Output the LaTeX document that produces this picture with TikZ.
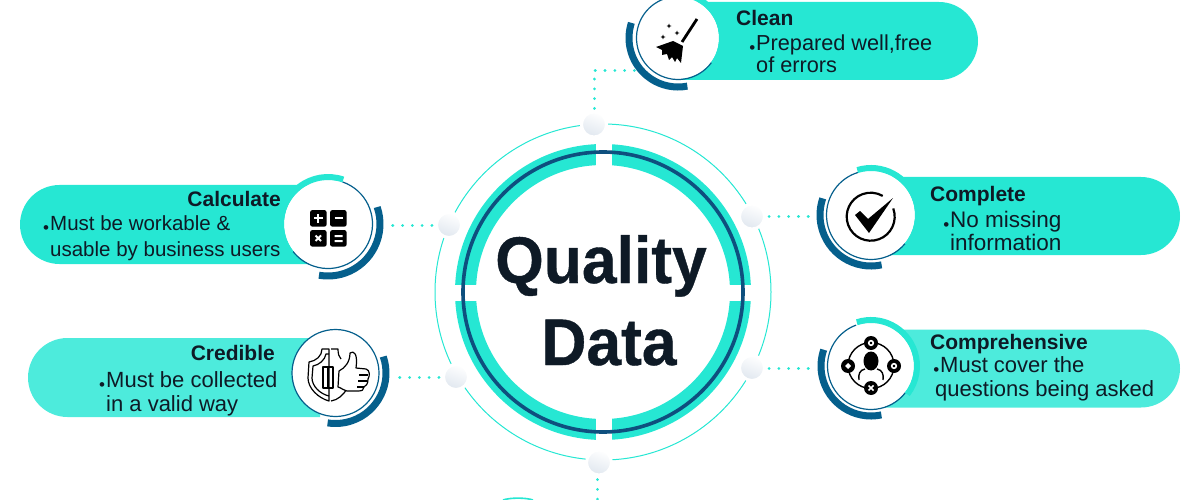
\documentclass[tikz,border=0pt]{standalone}
\usepackage{fontspec}
\setmainfont{Liberation Sans}
\usetikzlibrary{calc}
\definecolor{teal1}{HTML}{26E7D3}
\definecolor{teal2}{HTML}{4DEBDC}
\definecolor{navy}{HTML}{055F8C}
\definecolor{navydark}{HTML}{0E4F7E}
\definecolor{inkk}{HTML}{0E1A26}
\definecolor{ballshade}{HTML}{E0E7EF}
\tikzset{
 pillbox/.style={fill=teal1,draw=none},
 pillboxb/.style={fill=teal2,draw=none},
 ball/.style={circle,minimum size=25,inner sep=0,draw=white,line width=3pt,left color=white,right color=ballshade,shading angle=-20},
 iconface/.style={circle,fill=white,draw=none,minimum size=86,inner sep=0},
 dots/.style={draw=teal1,line width=3pt,line cap=round,dash pattern=on 0.1pt off 9.7pt},
 tealarc/.style={draw=teal1,line width=6pt},
 navyarc/.style={draw=navy,line width=7pt},
 thinarc/.style={draw=navy,line width=1.2pt},
 headtxt/.style={inner sep=0,font=\fontsize{21}{24}\selectfont\bfseries,text=inkk},
 bodytxt/.style={inner sep=0,align=left,text=inkk},
 bigtxt/.style={inner sep=0,anchor=base,xscale=.945,transform shape,font=\fontsize{66}{80}\selectfont\bfseries\addfontfeature{FakeBold=0.6},text=inkk},
 icoline/.style={draw=black,line width=1.2pt,line join=round},
}
\newcommand{\bdot}{\llap{\raisebox{-3pt}{\fontsize{17}{17}\selectfont •}\kern1pt}}
\newcommand{\ringarc}[5]{\draw[#1] ($(#2)+(#3:#5)$) arc (#3:#4:#5);}
\begin{document}
\begin{tikzpicture}[x=1pt,y=-1pt]
\useasboundingbox (0,0) rectangle (1200,500);
\begin{scope}
\clip (0,0) rectangle (1200,500);
% rings
\coordinate (hub) at (603,292);
\draw[teal1,line width=1pt] (hub) circle (168);
\draw[teal1,line width=21pt] (hub) circle (137.5);
\fill[white] (596,135) rectangle (611.5,180);
\fill[white] (596,405) rectangle (611.5,450);
\fill[white] (445,285.2) rectangle (490,301);
\fill[white] (715,285.2) rectangle (760,301);
\draw[navydark,line width=3.6pt] (hub) circle (140);
\node[bigtxt] (quality) at (601,283) {Quality};
\node[bigtxt] (datatxt) at (609,365) {Data};
% pills
\fill[pillbox] (680,2) -- (939,2) arc (-90:90:39) -- (680,80) -- cycle;
\fill[pillbox] (885,177) -- (1141,177) arc (-90:90:39) -- (885,255) -- cycle;
\fill[pillbox] (315,185) -- (59.5,185) arc (-90:-270:39.5) -- (315,264) -- cycle;
\fill[pillboxb] (320,338) -- (67.5,338) arc (-90:-270:39.5) -- (320,417) -- cycle;
\fill[pillboxb] (885,329.5) -- (1141,329.5) arc (-90:90:39) -- (885,407.5) -- cycle;
% icon faces
\node[iconface,minimum size=82] (iclean) at (678,38) {};
\node[iconface,minimum size=88] (icalc) at (328,224) {};
\node[iconface,minimum size=87] (icred) at (335.5,373) {};
\node[iconface,minimum size=88] (icomp) at (871,215) {};
\node[iconface,minimum size=86] (icompr) at (871,366) {};
% balls
\node[ball] (bclean) at (594,124.5) {};
\node[ball] (bcalc) at (449,225) {};
\node[ball] (bcomp) at (752,216.5) {};
\node[ball] (bcompr) at (752,368) {};
\node[ball] (bcred) at (456,377) {};
\node[ball] (bbot) at (599,462.5) {};
\coordinate (botend) at (597,502);
% connectors
\draw[dots,shorten <=2pt,shorten >=9pt] (bclean) -- (bclean |- iclean.232) -- (iclean.232);
\draw[dots,shorten <=3pt,shorten >=17pt] (bcalc) -- (icalc.east |- bcalc);
\draw[dots,shorten <=3pt,shorten >=17pt] (bcomp) -- (icomp.west |- bcomp);
\draw[dots,shorten <=3pt,shorten >=17pt] (bcompr) -- (icompr.west |- bcompr);
\draw[dots,shorten <=3pt,shorten >=17pt] (bcred) -- (icred.east |- bcred);
\draw[dots,shorten <=3pt] (bbot.south -| botend) -- (botend);
% decorative arcs
\ringarc{thinarc}{iclean}{36}{256}{41.5}
\ringarc{tealarc}{iclean}{-104}{36}{44}
\ringarc{navyarc}{iclean}{79}{198}{49}
\ringarc{thinarc}{icalc}{-71}{142}{44.5}
\ringarc{tealarc}{icalc}{142}{289}{47}
\ringarc{navyarc}{icalc}{-19}{100}{52}
\draw[thinarc] (icred) circle (43.5);
\ringarc{navyarc}{icred}{-19}{99}{50.5}
\ringarc{thinarc}{icomp}{40}{253}{44.5}
\ringarc{tealarc}{icomp}{-107}{40}{47}
\ringarc{navyarc}{icomp}{78}{199}{51}
\ringarc{thinarc}{icompr}{38}{250}{43.5}
\ringarc{tealarc}{icompr}{-108}{38}{46}
\ringarc{navyarc}{icompr}{78}{199}{50}
% partial icon at the bottom
\draw[teal1,line width=1.6pt] (503,500) .. controls (510,497.5) and (526,497.5) .. (533,500);
% broom
\draw[black,line width=2.8pt] (697,19) -- (682,42);
\fill[black] (673,41) -- (683,46) -- (681,63) -- (677,58) -- (675,62) -- (672,57) -- (669,60) -- (667,54) -- (662,55) -- (662,50) -- (656,47) -- cycle;
\foreach \p/\s in {669/26,663/37,677/33}{\fill[black] (\p,\s-2.5) -- (\p+.7,\s-.7) -- (\p+2.5,\s) -- (\p+.7,\s+.7) -- (\p,\s+2.5) -- (\p-.7,\s+.7) -- (\p-2.5,\s) -- (\p-.7,\s-.7) -- cycle;}
% calculator
\foreach \p/\s in {310/210,330/210,310/230,330/230}{\fill[black,rounded corners=2.5pt] (\p,\s) rectangle +(16.7,16.7);}
\draw[white,line width=2pt] (314,218.3) -- (322.5,218.3) (318.3,214) -- (318.3,222.5) (334.5,218.3) -- (342.5,218.3);
\draw[white,line width=2pt] (315.5,235.5) -- (321,241) (321,235.5) -- (315.5,241) (334.5,236) -- (342.5,236) (334.5,241) -- (342.5,241);
% shield and thumb
\draw[icoline] (329,349) -- (322,349) .. controls (322,356) and (316,361) .. (309,362) -- (308,378) .. controls (308,388) and (318,398) .. (329,401) -- cycle;
\draw[icoline] (329,354) -- (326,354) .. controls (325,360) and (319,365) .. (313,366) -- (312,378) .. controls (312,386) and (320,394) .. (329,396);
\draw[icoline] (331,349) -- (338,349) .. controls (338,354) and (339,357) .. (341,359);
\draw[icoline] (331,401) .. controls (338,400) and (343,395) .. (347,389);
\draw[icoline] (323,367) -- (333,367) -- (333,388) -- (323,388) -- cycle (328,367) -- (328,388);
\draw[icoline,fill=white] (339,371) .. controls (345,368) and (350,362) .. (350,353) .. controls (354,350) and (358,354) .. (356,368) -- (366,369) .. controls (370,370) and (370,376) .. (368,379) .. controls (368,384) and (366,386) .. (364,387) .. controls (364,390) and (362,391) .. (358,391) -- (347,391) .. controls (344,391) and (342,388) .. (338,387) -- cycle;
\draw[icoline] (359,375) -- (368,375) (358,381) -- (367,381) (357,387) -- (364,387);
% check
\draw[black,line width=2.2pt] ($(870.7,216.7)+(-20:24)$) arc (-20:300:24);
\fill[black] (855,215) -- (860,211) -- (868,219) -- (893,198) -- (869,233) -- cycle;
% person network
\draw[black,line width=1.4pt] (871,365.5) circle (23);
\foreach \p/\s in {871/343,848/366,894/366,871/388}{\fill[black] (\p,\s) circle (7);}
\draw[white,line width=1.6pt] (871,343) circle (2.3) (894,366) circle (2.3);
\fill[white] (848,363) -- (851,366) -- (848,369) -- (845,366) -- cycle;
\draw[white,line width=1.6pt] (868.5,385.5) -- (873.5,390.5) (873.5,385.5) -- (868.5,390.5);
\fill[white] (871,365.5) ellipse (12 and 15);
\fill[black] (871,361) ellipse (7.5 and 9.5);
\draw[black,line width=1.4pt] (859,380) .. controls (858,374) and (860,370) .. (865,369);
\draw[black,line width=1.4pt] (883,380) .. controls (884,374) and (882,370) .. (877,369);
\end{scope}
% labels
\node[headtxt,anchor=base west] (tclean) at (736,26) {Clean};
\node[bodytxt,anchor=base west,font=\fontsize{21.7}{22.5}\selectfont] (bdclean) at (756,73) {\bdot Prepared well,free\\of errors};
\node[headtxt,anchor=base east] (tcalc) at (281,206) {Calculate};
\node[bodytxt,anchor=base west,font=\fontsize{20.5}{25.5}\selectfont] (bdcalc) at (50,256) {\bdot Must be workable \&\\usable by business users};
\node[headtxt,anchor=base east] (tcred) at (275,360) {Credible};
\node[bodytxt,anchor=base west,font=\fontsize{22}{24}\selectfont] (bdcred) at (106,411) {\bdot Must be collected\\in a valid way};
\node[headtxt,anchor=base west] (tcomp) at (930,201) {Complete};
\node[bodytxt,anchor=base west,font=\fontsize{22.5}{23}\selectfont] (bdcomp) at (950,250) {\bdot No missing\\information};
\node[headtxt,anchor=base west] (tcompr) at (930,349) {Comprehensive};
\node[bodytxt,anchor=base west,font=\fontsize{22}{24}\selectfont] (bdcompr) at (940,396) {\bdot Must cover the\\\kern-5pt questions being asked};
\end{tikzpicture}
\end{document}
